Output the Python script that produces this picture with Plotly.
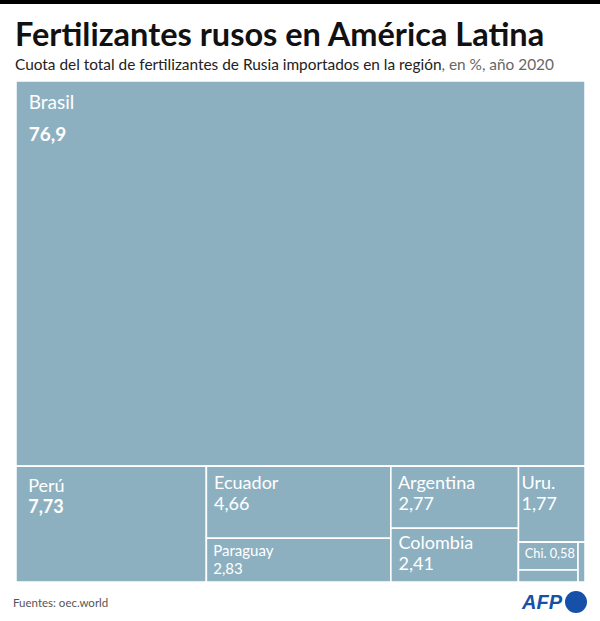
import plotly.graph_objects as go

# ---- data ----
countries = ["Brasil", "Perú", "Ecuador", "Paraguay", "Argentina", "Colombia", "Uru.", "Chi.", "Otros", "Otros2"]
shares = [76.9, 7.73, 4.66, 2.83, 2.77, 2.41, 1.77, 0.58, 0.25, 0.10]
shown = ["76,9", "7,73", "4,66", "2,83", "2,77", "2,41", "1,77", "0,58", "", ""]
parent_of = ["", "Resto", "EP", "EP", "AC", "AC", "UCO", "CX", "CX", "CXY"]
groups = ["Resto", "EP", "AC", "UCO", "CXY", "CX"]
group_parent = ["", "Resto", "Resto", "Resto", "UCO", "CXY"]

W, H = 600, 621
COLOR = "#8db0c1"
FONT = "Lato"
BASE = 2  # base font size: one <br> = 2.6 px

# label style per country: (font size, lines before label, lines between, left nbsp, bold value)
style = {
    "Brasil":    (19, 9, 12, 2, True),
    "Perú":      (18, 8, 8, 2, True),
    "Ecuador":   (18, 7, 8, 1, False),
    "Paraguay":  (15, 5, 7, 1, False),
    "Argentina": (18, 7, 8, 1, False),
    "Colombia":  (18, 6, 8, 1, False),
    "Uru.":      (18, 7, 8, 0, False),
}

def label_text(name, val):
    if not val:
        return ""
    if name == "Chi.":
        return f"<span style='font-size:13px'>&nbsp;{name} {val}</span>"
    size, pre, gap, nb, bold = style[name]
    sp = "&nbsp;" * nb
    v = f"<b>{val}</b>" if bold else val
    return ("&nbsp;" + "<br>" * pre
            + f"<span style='font-size:{size}px'>{sp}{name}</span>"
            + "<br>" * gap
            + f"<span style='font-size:{size}px'>{sp}{v}</span>")

ids = ["root"] + countries + groups
labels = [""] + countries + [""] * len(groups)
parents = [""] + [p if p else "root" for p in parent_of] + [p if p else "root" for p in group_parent]
values = [0] + shares + [0] * len(groups)
texts = [""] + [label_text(c, s) for c, s in zip(countries, shown)] + [""] * len(groups)

fig = go.Figure(go.Treemap(
    ids=ids, labels=labels, parents=parents, values=values,
    branchvalues="remainder",
    text=texts, texttemplate="%{text}", textposition="top left",
    textfont=dict(family=FONT, size=BASE, color="white"),
    marker=dict(colors=[COLOR] * len(ids), line=dict(color="white", width=1.5),
                pad=dict(t=0, l=0, r=0, b=0)),
    tiling=dict(packing="dice-slice", pad=0),
    pathbar=dict(visible=False),
    sort=True,
    hoverinfo="skip",
    domain=dict(x=[16 / W, 585 / W], y=[(H - 582) / H, (H - 81) / H]),
))

def py(p):
    return 1 - p / H

fig.update_layout(
    width=W, height=H, margin=dict(l=0, r=0, t=0, b=0),
    paper_bgcolor="white", plot_bgcolor="white",
    shapes=[
        dict(type="rect", xref="paper", yref="paper", x0=0, x1=1, y0=py(4), y1=1,
             fillcolor="black", line=dict(width=0)),
        dict(type="circle", xref="paper", yref="paper", x0=565 / W, x1=587 / W,
             y0=py(613), y1=py(591), fillcolor="#1650a8", line=dict(width=0)),
    ],
    annotations=[
        dict(text="<b>Fertilizantes rusos en América Latina</b>", x=13 / W, y=py(33),
             xref="paper", yref="paper", xanchor="left", yanchor="middle", showarrow=False,
             font=dict(family=FONT, size=32.5, color="#111111")),
        dict(text="Cuota del total de fertilizantes de Rusia importados en la región"
                  "<span style='color:#666666'>, en %, año 2020</span>",
             x=13 / W, y=py(64), xref="paper", yref="paper", xanchor="left", yanchor="middle",
             showarrow=False, font=dict(family=FONT, size=15.4, color="#222222")),
        dict(text="Fuentes: oec.world", x=11 / W, y=py(602), xref="paper", yref="paper",
             xanchor="left", yanchor="middle", showarrow=False,
             font=dict(family=FONT, size=11.5, color="#555555")),
        dict(text="<b><i>AFP</i></b>", x=565 / W, y=py(602), xref="paper", yref="paper",
             xanchor="right", yanchor="middle", showarrow=False,
             font=dict(family="Liberation Sans", size=20, color="#1650a8")),
    ],
)

fig.write_html("out.html", config={"displayModeBar": False},
               post_script="document.body.style.margin='0px';")
